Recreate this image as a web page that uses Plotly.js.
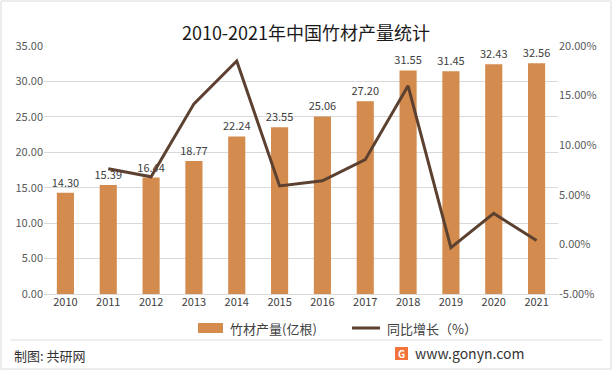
<!DOCTYPE html>
<html><head><meta charset="utf-8">
<script src="https://cdn.plot.ly/plotly-3.0.1.min.js"></script>
<style>html,body{margin:0;padding:0;background:#fff;}#chart{width:612px;height:370px;}</style>
</head><body><div id="chart"></div>
<script>
const years = ['2010','2011','2012','2013','2014','2015','2016','2017','2018','2019','2020','2021'];
const output = [14.30,15.39,16.44,18.77,22.24,23.55,25.06,27.20,31.55,31.45,32.43,32.56];
const growthYears = ['2011','2012','2013','2014','2015','2016','2017','2018','2019','2020','2021'];
const growth = [7.62,6.82,14.17,18.49,5.89,6.41,8.54,15.99,-0.32,3.12,0.40];
const leftTicks = [0,5,10,15,20,25,30,35];
const rightTicks = [-5,0,5,10,15,20];
const seriesNames = ['竹材产量(亿根)', '同比增长（%）'];

const font = '"Noto Sans CJK SC", "Noto Sans", sans-serif';
const barColor = '#D38B4E', lineColor = '#5C4130';
const traces = [
  {type:'bar', x:years, y:output, name:seriesNames[0], marker:{color:barColor}, width:0.4,
   text:output.map(v=>v.toFixed(2)), textposition:'outside', cliponaxis:false, constraintext:'none',
   textfont:{size:11, color:'#404040', family:font}, hoverinfo:'x+y'},
  {type:'scatter', mode:'lines', x:growthYears, y:growth, name:seriesNames[1], yaxis:'y2',
   line:{color:lineColor, width:3}}
];
const px = x => (x-44)/514, py = y => (294-y)/248;
const layout = {
  width:612, height:370, margin:{l:44, r:54, t:46, b:76},
  paper_bgcolor:'#fff', plot_bgcolor:'#fff', font:{family:font, size:11, color:'#595959'},
  title:{text:'2010-2021年中国竹材产量统计', x:0.5, xanchor:'center', y:0.91, yanchor:'middle', font:{size:18, color:'#1a1a1a', family:font}},
  bargap:0.6, showlegend:false,
  xaxis:{type:'category', categoryorder:'array', categoryarray:years, showgrid:false, zeroline:false, showline:false, ticks:'', tickfont:{size:11, color:'#404040'}},
  yaxis:{range:[0,35], tickvals:leftTicks, ticktext:leftTicks.map(v=>v.toFixed(2)), showgrid:true, gridcolor:'#d9d9d9', gridwidth:1, zeroline:true, zerolinecolor:'#d9d9d9', showline:false, ticks:'', tickfont:{size:11, color:'#595959'}},
  yaxis2:{range:[-5,20], overlaying:'y', side:'right', tickvals:rightTicks, ticktext:rightTicks.map(v=>v.toFixed(2)+'%'), showgrid:false, zeroline:false, showline:false, ticks:'', tickfont:{size:11, color:'#595959'}},
  shapes:[
    {type:'rect', xref:'paper', yref:'paper', x0:px(1), x1:px(611), y0:py(369), y1:py(1), line:{color:'#d9d9d9', width:1}},
    {type:'line', xref:'paper', yref:'paper', x0:px(10), x1:px(602), y0:py(340), y1:py(340), line:{color:'#e0e0e0', width:1}},
    {type:'rect', xref:'paper', yref:'paper', x0:px(198), x1:px(223), y0:py(333), y1:py(323), fillcolor:barColor, line:{width:0}},
    {type:'line', xref:'paper', yref:'paper', x0:px(352), x1:px(380), y0:py(328), y1:py(328), line:{color:lineColor, width:3}},
    {type:'rect', xref:'paper', yref:'paper', x0:px(395), x1:px(408), y0:py(360), y1:py(347), fillcolor:'#F2743A', line:{width:0}}
  ],
  annotations:[
    {xref:'paper', yref:'paper', x:px(228), y:py(328), xanchor:'left', yanchor:'middle', text:seriesNames[0], showarrow:false, font:{size:13, color:'#404040', family:font}},
    {xref:'paper', yref:'paper', x:px(385), y:py(328), xanchor:'left', yanchor:'middle', text:seriesNames[1], showarrow:false, font:{size:13, color:'#404040', family:font}},
    {xref:'paper', yref:'paper', x:px(12), y:py(355), xanchor:'left', yanchor:'middle', text:'制图: 共研网', showarrow:false, font:{size:13, color:'#333', family:font}},
    {xref:'paper', yref:'paper', x:px(413), y:py(353), xanchor:'left', yanchor:'middle', text:'www.gonyn.com', showarrow:false, font:{size:14, color:'#333', family:font}},
    {xref:'paper', yref:'paper', x:px(401.5), y:py(353.5), xanchor:'center', yanchor:'middle', text:'<b>G</b>', showarrow:false, font:{size:10, color:'#fff', family:font}}
  ]
};
Plotly.newPlot('chart', traces, layout, {displayModeBar:false, staticPlot:true});
</script></body></html>
